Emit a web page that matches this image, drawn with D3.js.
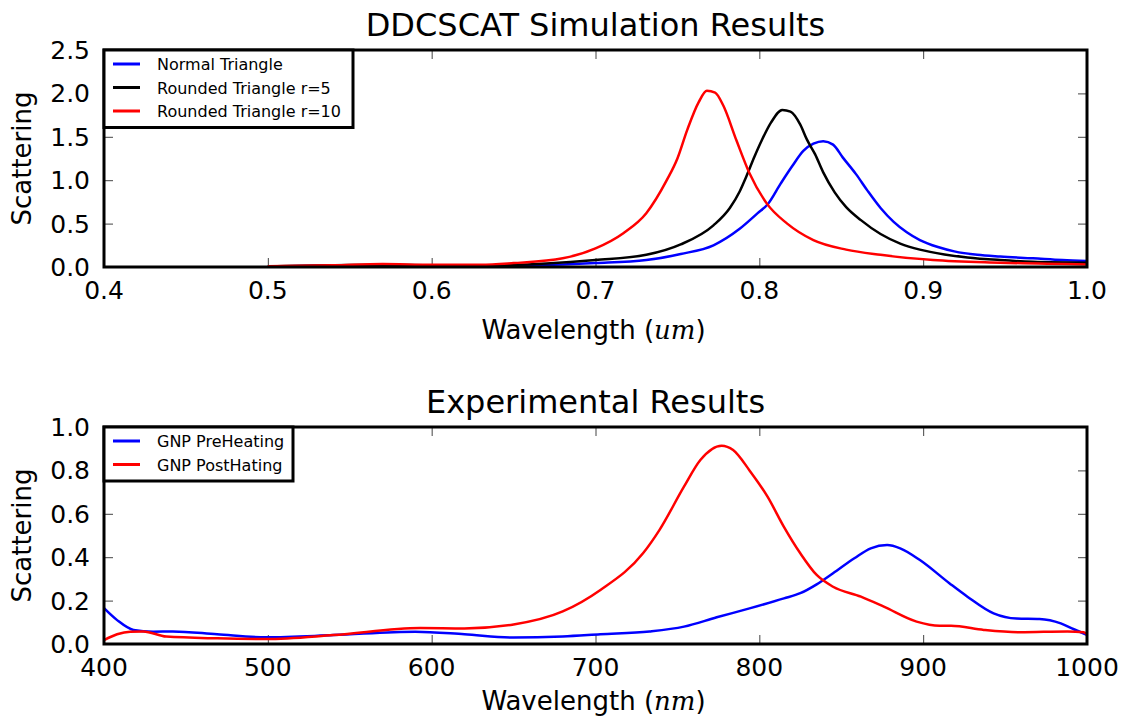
<!DOCTYPE html>
<meta charset="utf-8">
<script src="https://d3js.org/d3.v7.min.js"></script>
<style>
  body { margin: 0; background: #fff; }
  text { font-family: "DejaVu Sans", sans-serif; fill: #000; }
</style>
<svg width="1128" height="720"></svg>
<script>

// ---- top panel : DDSCAT simulation (wavelength in um) ----
var normalWl = [0.50, 0.57, 0.62, 0.68, 0.70, 0.731, 0.752, 0.772, 0.788, 0.799, 0.805, 0.813, 0.820, 0.827, 0.833,
                0.839, 0.845, 0.851, 0.859, 0.866, 0.874, 0.882, 0.890, 0.898, 0.909, 0.919, 0.933, 0.947, 0.967, 0.985, 1.00];
var normalTri = [0.005, 0.02, 0.01, 0.03, 0.045, 0.08, 0.15, 0.25, 0.44, 0.62, 0.72, 0.96, 1.16, 1.34, 1.42,
                 1.45, 1.41, 1.26, 1.07, 0.88, 0.68, 0.52, 0.40, 0.31, 0.23, 0.18, 0.14, 0.12, 0.10, 0.08, 0.07];

var r5Wl = [0.50, 0.57, 0.62, 0.67, 0.70, 0.731, 0.752, 0.772, 0.782, 0.788, 0.792, 0.797, 0.8015, 0.807, 0.814, 0.819,
            0.825, 0.829, 0.834, 0.839, 0.846, 0.853, 0.862, 0.874, 0.886, 0.898, 0.913, 0.927, 0.947, 0.967, 1.00];
var roundedR5 = [0.005, 0.025, 0.015, 0.04, 0.08, 0.14, 0.26, 0.48, 0.68, 0.87, 1.04, 1.27, 1.46, 1.66, 1.81, 1.79,
                 1.64, 1.47, 1.30, 1.09, 0.86, 0.69, 0.54, 0.38, 0.27, 0.20, 0.145, 0.11, 0.08, 0.06, 0.05];

var r10Wl = [0.50, 0.54, 0.57, 0.60, 0.63, 0.65, 0.68, 0.70, 0.717, 0.731, 0.7435, 0.750, 0.756, 0.763, 0.768, 0.773,
             0.778, 0.786, 0.794, 0.8046, 0.817, 0.833, 0.853, 0.874, 0.906, 0.947, 1.00];
var roundedR10 = [0.01, 0.02, 0.035, 0.025, 0.025, 0.045, 0.10, 0.215, 0.39, 0.62, 1.00, 1.25, 1.58, 1.90, 2.03, 2.01,
                  1.86, 1.46, 1.08, 0.73, 0.50, 0.31, 0.20, 0.14, 0.08, 0.05, 0.03];

// ---- bottom panel : experiment (wavelength in nm) ----
var preWl = [400, 408, 418, 430, 442, 469, 499, 540, 590, 620, 650, 680, 703, 733, 754, 774, 794, 815, 825, 835,
             845, 858, 868, 878, 886, 898, 916, 927, 943, 957, 971, 984, 992, 1000];
var preHeating = [0.165, 0.11, 0.065, 0.057, 0.058, 0.045, 0.031, 0.041, 0.057, 0.045, 0.03, 0.035, 0.045, 0.058, 0.08, 0.123, 0.164, 0.21, 0.234, 0.275,
                  0.326, 0.395, 0.441, 0.456, 0.441, 0.387, 0.28, 0.218, 0.141, 0.117, 0.115, 0.095, 0.068, 0.042];

var postWl = [400, 408, 416, 424, 438, 469, 499, 540, 593, 620, 650, 680, 703, 729, 739, 754, 764, 777, 784, 794,
              805, 815, 825, 835, 845, 862, 876, 896, 910, 917, 937, 959, 988, 998, 1000];
var postHeating = [0.018, 0.045, 0.057, 0.058, 0.034, 0.026, 0.023, 0.041, 0.074, 0.072, 0.09, 0.15, 0.249, 0.418, 0.525, 0.725, 0.848, 0.914, 0.894, 0.80,
                   0.679, 0.54, 0.418, 0.318, 0.264, 0.218, 0.172, 0.103, 0.084, 0.084, 0.065, 0.054, 0.058, 0.054, 0.045];

var panels = [
  { title: "DDCSCAT Simulation Results", top: 50, xDomain: [0.4, 1.0], xTicks: d3.range(0.4, 1.01, 0.1), xFmt: d3.format(".1f"),
    yDomain: [0, 2.5], yTicks: d3.range(0, 2.51, 0.5), yFmt: d3.format(".1f"), unit: "um", legendW: 249, labelOff: 72,
    series: [
      { name: "Normal Triangle", color: "#0000ff", xs: normalWl, ys: normalTri },
      { name: "Rounded Triangle r=5", color: "#000000", xs: r5Wl, ys: roundedR5 },
      { name: "Rounded Triangle r=10", color: "#ff0000", xs: r10Wl, ys: roundedR10 } ] },
  { title: "Experimental Results", top: 427, xDomain: [400, 1000], xTicks: d3.range(400, 1001, 100), xFmt: d3.format("d"),
    yDomain: [0, 1.0], yTicks: d3.range(0, 1.01, 0.2), yFmt: d3.format(".1f"), unit: "nm", legendW: 189, labelOff: 66,
    series: [
      { name: "GNP PreHeating", color: "#0000ff", xs: preWl, ys: preHeating },
      { name: "GNP PostHating", color: "#ff0000", xs: postWl, ys: postHeating } ] }
];

var svg = d3.select("svg");
var left = 104, width = 983, height = 217;

panels.forEach(function(p) {
  var g = svg.append("g").attr("transform", "translate(" + left + "," + p.top + ")");

  var x = d3.scaleLinear().domain(p.xDomain).range([0, width]);
  var y = d3.scaleLinear().domain(p.yDomain).range([height, 0]);

  // inward ticks on all four sides
  var tick = 9;
  g.append("g").call(d3.axisBottom(x).tickValues(p.xTicks).tickSize(tick).tickFormat(""))
    .attr("transform", "translate(0," + (height - tick) + ")");
  g.append("g").call(d3.axisTop(x).tickValues(p.xTicks).tickSize(tick).tickFormat(""))
    .attr("transform", "translate(0," + tick + ")");
  g.append("g").call(d3.axisLeft(y).tickValues(p.yTicks).tickSize(tick).tickFormat(""))
    .attr("transform", "translate(" + tick + ",0)");
  g.append("g").call(d3.axisRight(y).tickValues(p.yTicks).tickSize(tick).tickFormat(""))
    .attr("transform", "translate(" + (width - tick) + ",0)");
  g.selectAll(".domain").remove();
  g.selectAll(".tick line").attr("stroke", "#444").attr("stroke-width", 1);

  // tick labels
  g.selectAll(".xl").data(p.xTicks).enter().append("text")
    .attr("x", function(d) { return x(d); }).attr("y", height + 32)
    .attr("text-anchor", "middle").style("font-size", "25px")
    .text(function(d) { return p.xFmt(d); });
  g.selectAll(".yl").data(p.yTicks).enter().append("text")
    .attr("x", -14).attr("y", function(d) { return y(d) + 9; })
    .attr("text-anchor", "end").style("font-size", "25px")
    .text(function(d) { return p.yFmt(d); });

  // data lines
  var line = d3.line().curve(d3.curveMonotoneX);
  g.append("g").selectAll("path").data(p.series).enter().append("path")
    .attr("d", function(s) { return line(s.xs.map(function(v, i) { return [x(v), y(s.ys[i])]; })); })
    .attr("fill", "none")
    .attr("stroke", function(s) { return s.color; })
    .attr("stroke-width", 2.5);

  // frame
  g.append("rect").attr("width", width).attr("height", height)
    .attr("fill", "none").attr("stroke", "#000").attr("stroke-width", 3);

  // titles and axis labels
  g.append("text").attr("x", width / 2).attr("y", -14).attr("text-anchor", "middle")
    .style("font-size", "32px").text(p.title);
  var xl = g.append("text").attr("x", width / 2 - 2).attr("y", height + p.labelOff).attr("text-anchor", "middle")
    .style("font-size", "26px");
  xl.append("tspan").text("Wavelength (");
  xl.append("tspan").style("font-family", "'DejaVu Serif', serif").style("font-style", "italic").text(p.unit);
  xl.append("tspan").text(")");
  g.append("text").attr("transform", "translate(-73," + (height / 2) + ") rotate(-90)")
    .attr("text-anchor", "middle").style("font-size", "26px").text("Scattering");

  // legend
  var rowH = 23.5;
  var leg = g.append("g");
  leg.append("rect").attr("width", p.legendW).attr("height", p.series.length * rowH + 7)
    .attr("fill", "#fff").attr("stroke", "#000").attr("stroke-width", 3);
  p.series.forEach(function(s, i) {
    var cy = 14 + i * rowH;
    leg.append("line").attr("x1", 9).attr("x2", 36).attr("y1", cy).attr("y2", cy)
      .attr("stroke", s.color).attr("stroke-width", 3);
    leg.append("text").attr("x", 53).attr("y", cy + 6).style("font-size", "16px").text(s.name);
  });
});
</script>
